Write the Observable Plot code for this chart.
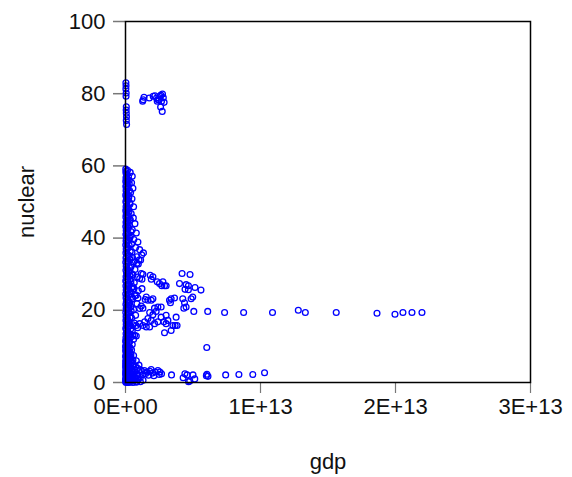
<!DOCTYPE html>
<html>
<head>
<meta charset="utf-8">
<script src="https://cdn.jsdelivr.net/npm/d3@7"></script>
<script src="https://cdn.jsdelivr.net/npm/@observablehq/plot@0.6"></script>
<style>
  html, body { margin: 0; padding: 0; background: #fff; }
  #chart { width: 572px; height: 477px; }
</style>
</head>
<body>
<div id="chart"></div>
<script>
// Axis settings
const xTicks = [0, 1e13, 2e13, 3e13];
const yTicks = [0, 20, 40, 60, 80, 100];
const xLabel = "gdp";
const yLabel = "nuclear";

// Points as [gdp in trillions of US$, nuclear share]
const bandNearZero = [
  [0.02,59.1],[0.05,58.5],[0.03,58.1],[0.08,57.3],[0.04,56.8],[0.06,56.4],[0.02,55.7],[0.09,55.3],[0.05,54.6],[0.03,54.2],
  [0.07,53.5],[0.04,53.1],[0.1,52.4],[0.02,51.9],[0.06,51.3],[0.08,50.9],[0.03,50.2],[0.05,49.8],[0.11,49.1],[0.04,48.7],
  [0.07,48.0],[0.02,47.6],[0.09,46.9],[0.05,46.5],[0.03,45.8],[0.12,45.4],[0.06,44.7],[0.04,44.3],[0.08,43.6],[0.02,43.2],
  [0.1,42.5],[0.05,42.1],[0.07,41.4],[0.03,41.0],[0.13,40.3],[0.06,39.9],[0.04,39.2],[0.09,38.8],[0.02,38.1],[0.11,37.7],
  [0.05,37.0],[0.07,36.6],[0.03,35.9],[0.14,35.5],[0.06,34.8],[0.04,34.4],[0.1,33.7],[0.02,33.3],[0.08,32.6],[0.05,32.2],
  [0.12,31.5],[0.03,31.1],[0.07,30.4],[0.15,30.0],[0.04,29.3],[0.09,28.9],[0.02,28.2],[0.06,27.8],[0.11,27.1],[0.03,26.7],
  [0.08,26.0],[0.05,25.6],[0.13,24.9],[0.02,24.5],[0.07,23.8],[0.04,23.4],[0.1,22.7],[0.06,22.3],[0.03,21.6],[0.12,21.2],
  [0.05,20.5],[0.08,20.1],[0.02,19.4],[0.14,19.0],[0.04,18.3],[0.07,17.9],[0.03,17.2],[0.1,16.8],[0.05,16.1],[0.08,15.7],
  [0.02,15.0],[0.06,14.6],[0.12,13.9],[0.04,13.5],[0.09,12.8],[0.03,12.4],[0.07,11.7],[0.05,11.3],[0.11,10.6],[0.02,10.2],
  [0.08,9.5],[0.04,9.1],[0.13,8.4],[0.06,8.0],[0.03,7.3],[0.1,6.9],[0.05,6.2],[0.15,5.8],[0.02,5.1],[0.08,4.7],
  [0.04,4.0],[0.12,3.6],[0.06,2.9],[0.03,2.5],[0.1,1.8],[0.05,1.4],[0.02,0.7],[0.07,0.3],[0.04,0.0],[0.12,0.1],
  [0.2,0.0],[0.3,0.1],[0.18,0.9],[0.25,1.7],[0.16,2.8],[0.22,4.4],[0.17,6.5],[0.19,9.3],
  [0.01,11.5],[0.06,10.9],[0.01,9.8],[0.09,9.2],[0.01,8.7],[0.05,7.7],[0.01,7.1],[0.08,6.5],[0.01,5.9],[0.11,5.4],
  [0.03,4.9],[0.01,4.3],[0.09,3.8],[0.01,3.2],[0.05,2.7],[0.01,2.1],[0.08,1.6],[0.01,1.0],[0.13,0.6],[0.01,0.2]
];
const bandSpread = [
  [0.35,58.2],[0.5,57.1],[0.28,56.0],[0.45,55.3],[0.2,54.4],[0.55,53.8],[0.38,52.6],[0.25,51.7],[0.48,50.9],[0.32,49.8],
  [0.6,48.7],[0.22,47.9],[0.42,46.8],[0.58,45.6],[0.3,44.9],[0.7,44.0],[0.18,43.2],[0.5,42.3],[0.8,41.4],[0.36,40.5],
  [0.62,39.6],[0.92,38.9],[0.27,38.0],[0.75,37.4],[1.05,36.8],[0.48,36.1],[1.2,35.4],[0.85,34.8],[0.33,34.1],[1.33,35.9],
  [0.6,33.4],[0.95,32.8],[0.4,32.0],[0.7,31.3],[0.25,30.6],[0.55,29.8],[0.88,29.2],[0.35,28.5],[0.65,27.6],[0.2,26.9],
  [0.45,26.2],[0.95,25.4],[0.3,24.6],[0.7,24.0],[0.5,23.1],[0.22,22.4],[0.85,21.8],[0.4,21.0],[0.6,20.2],[0.28,19.4],
  [0.75,18.6],[0.45,17.9],[0.2,17.1],[0.65,16.5],[0.35,15.7],[0.9,15.2],[0.5,14.3],[0.25,13.6],[0.4,12.6],[0.6,12.0],
  [0.3,11.3],[0.5,10.5],[0.22,9.8],[0.45,9.0],[0.35,8.2],[0.6,7.5],[0.28,6.8],[0.8,6.0],[0.45,5.3],[1.0,4.8],
  [0.35,4.2],[0.65,3.6],[1.2,3.2],[0.5,2.7],[0.9,2.2],[1.5,2.5],[0.3,1.6],[0.7,1.1],[1.1,1.4],[0.45,0.5],
  [0.85,0.3],[1.3,0.6],[0.2,0.2]
];
const bandInner = [
  [0.15,58.8],[0.1,57.7],[0.22,57.0],[0.13,55.9],[0.28,55.0],[0.16,53.9],[0.3,53.2],[0.12,52.0],[0.24,51.2],[0.17,50.5],
  [0.33,49.4],[0.14,48.3],[0.26,47.3],[0.19,46.2],[0.36,45.1],[0.15,44.5],[0.29,43.5],[0.21,42.8],[0.4,41.8],[0.16,41.2],
  [0.31,40.0],[0.24,39.4],[0.45,38.4],[0.18,37.3],[0.35,36.3],[0.27,35.2],[0.52,34.6],[0.19,33.6],[0.4,32.5],[0.3,31.8],
  [0.21,30.9],[0.45,30.2],[0.33,29.6],[0.17,28.6],[0.4,28.0],[0.25,27.3],[0.55,26.5],[0.15,25.8],[0.36,25.2],[0.24,24.2],
  [0.48,23.6],[0.18,22.9],[0.32,22.0],[0.26,21.4],[0.15,20.8],[0.42,19.8],[0.22,19.1],[0.34,18.1],[0.16,17.6],[0.28,16.4],
  [0.2,15.4],[0.38,14.8],[0.15,14.2],[0.3,13.2],[0.2,12.1],[0.26,11.0],[0.14,10.4],[0.35,9.6],[0.24,8.7],[0.12,8.3],
  [0.4,7.8],[0.18,7.1],[0.3,6.6],[0.45,5.9],[0.22,5.5],[0.35,5.0],[0.55,4.6],[0.15,4.4],[0.28,3.9],[0.48,3.3],
  [0.7,2.9],[0.2,3.2],[0.38,2.6],[0.6,2.3],[0.85,1.9],[0.14,2.1],[0.3,1.9],[0.5,1.5],[0.75,1.3],[0.95,0.9],
  [0.25,1.1],[0.4,0.8],[0.6,0.6],[1.1,0.2],[0.15,0.4],[0.35,0.2],[0.55,0.0],[0.8,0.1]
];
const lowTail = [
  [1.4,3.3],[1.6,2.9],[1.8,3.1],[2.0,2.6],[2.2,2.9],[2.4,3.3],[1.7,2.0],[2.1,1.9],[2.5,2.2],[1.3,2.3],
  [1.9,3.6],[0.75,4.4],[0.9,3.9],[1.1,3.5],[0.6,5.0],[0.55,6.2],[0.4,7.0]
];
const midCluster = [
  [1.00,33.9],[1.12,33.9],[0.85,33.0],[1.17,30.2],[1.29,30.0],[1.05,28.8],[1.22,28.6],[1.83,29.7],[1.91,28.6],[2.03,29.3],
  [2.35,27.9],[2.52,27.4],[2.77,27.9],[2.89,26.8],[2.69,26.8],[3.01,26.8],[4.19,30.2],[4.78,29.9],[4.00,27.4],[4.49,27.1],
  [4.66,26.8],[4.41,25.8],[5.15,26.3],[4.66,25.7],[5.59,25.6],[0.63,26.0],[1.22,26.0],[0.80,24.2],[0.92,23.4],[1.54,23.7],
  [1.46,23.0],[1.66,22.8],[1.91,22.8],[2.03,23.2],[3.26,22.8],[3.38,23.2],[3.63,23.4],[3.33,22.1],[4.24,23.2],[4.37,22.1],
  [4.32,20.6],[4.49,20.9],[4.98,23.7],[4.86,23.2],[2.40,20.9],[2.64,20.9],[2.15,20.6],[2.27,19.7],[1.79,19.4],[2.03,18.8],
  [1.29,20.6],[1.17,21.2],[1.05,20.5],[3.01,18.6],[2.64,18.1],[3.75,18.1],[3.14,17.2],[2.84,16.8],[1.66,17.7],[1.91,17.2],
  [1.42,16.8],[1.05,16.3],[1.29,15.8],[0.80,15.8],[0.55,16.0],[0.31,15.8],[0.18,15.4],[1.54,15.4],[1.79,15.4],[2.15,16.3],
  [2.40,16.8],[3.01,16.3],[3.51,15.8],[3.68,15.8],[3.82,15.8],[3.38,14.4],[2.89,13.8],[0.68,13.1],[0.80,12.9],[0.55,13.1]
];
const highLeft = [
  [0.03,83.0],[0.04,82.2],[0.03,81.3],[0.05,80.2],[0.04,79.3],[0.06,76.4],[0.05,75.5],[0.06,74.6],[0.07,73.6],[0.06,72.6],[0.08,71.5]
];
const highCluster = [
  [1.27,77.9],[1.37,79.0],[1.76,78.8],[2.05,79.3],[2.18,79.4],[2.30,78.8],[2.42,78.3],[2.55,79.3],[2.74,79.9],[2.67,77.9],
  [2.86,77.6],[2.60,76.3],[2.72,75.1],[2.49,78.3],[2.35,77.9],[1.31,78.3],[2.62,79.6],[2.80,78.9]
];
const flatNear20 = [
  [5.06,19.7],[6.09,19.7],[7.34,19.4],[8.75,19.4],[10.89,19.4],[12.80,20.0],[13.32,19.4],[15.61,19.4],[18.63,19.2],[19.96,18.9],
  [20.55,19.4],[21.22,19.4],[21.96,19.4]
];
const lowLarge = [
  [2.55,2.9],[2.67,2.4],[3.41,2.1],[4.27,1.3],[4.40,2.4],[4.56,2.1],[4.76,0.4],[4.67,0.2],[5.00,2.1],[5.13,1.0],
  [5.99,1.9],[6.11,1.7],[6.03,2.3],[7.42,2.1],[8.40,2.2],[9.43,2.2],[10.30,2.7],[6.02,9.7]
];

const groups = [bandNearZero, bandSpread, bandInner, lowTail, midCluster, highLeft, highCluster, flatNear20, lowLarge];
const data = groups.flat().map(([g, n]) => ({gdp: g * 1e12, nuclear: n}));

const fmtSci = d => {
  const [m, e] = d.toExponential(0).split("e");
  return `${m}E${e[0]}${e.slice(1).padStart(2, "0")}`;
};

const chart = Plot.plot({
  width: 572,
  height: 477,
  marginLeft: 125,
  marginRight: 42,
  marginTop: 21,
  marginBottom: 95,
  style: {fontFamily: "'Liberation Sans', Arial, sans-serif", fontSize: "22px", color: "#111", background: "#fff"},
  x: {domain: [0, 3e13]},
  y: {domain: [0, 100]},
  marks: [
    Plot.axisX({ticks: xTicks, tickFormat: fmtSci, tickSize: 11, tickPadding: 5, stroke: "#777", strokeWidth: 1.2,
      label: xLabel, labelAnchor: "center", labelOffset: 86, labelArrow: "none"}),
    Plot.axisY({ticks: yTicks, tickSize: 12, tickPadding: 8, stroke: "#777", strokeWidth: 1.5,
      label: yLabel, labelAnchor: "center", labelOffset: 107, labelArrow: "none"}),
    Plot.dot(data, {x: "gdp", y: "nuclear", r: 2.9, stroke: "#0000ff", fill: "none", strokeWidth: 1.3}),
    Plot.frame({stroke: "#000", strokeWidth: 1.5})
  ]
});
document.getElementById("chart").appendChild(chart);
</script>
</body>
</html>
